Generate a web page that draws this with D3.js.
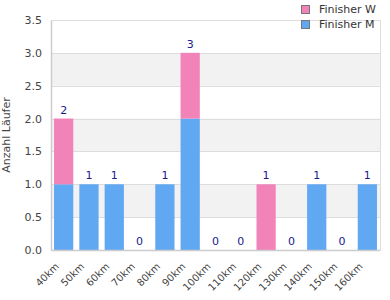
<!DOCTYPE html>
<html><head><meta charset="utf-8">
<script src="https://cdn.jsdelivr.net/npm/d3@7/dist/d3.min.js"></script>
<style>body{margin:0;background:#fff;}svg{display:block;font-family:"DejaVu Sans",sans-serif;}</style>
</head><body>
<script>
const categories = ["40km","50km","60km","70km","80km","90km","100km","110km","120km","130km","140km","150km","160km"];
const finisherM = [1,1,1,0,1,2,0,0,0,0,1,0,1];
const finisherW = [1,0,0,0,0,1,0,0,1,0,0,0,0];
const seriesNames = ["Finisher W","Finisher M"];
const colors = {"Finisher W":"#f283b8","Finisher M":"#60a8f2"};
const yTicks = [0,0.5,1,1.5,2,2.5,3,3.5];

const W=390,H=300, m={l:51,r:10,t:20,b:50};
const svg=d3.select("body").append("svg").attr("width",W).attr("height",H);
const x=d3.scaleBand().domain(categories).range([m.l,W-m.r]).paddingInner(0.24).paddingOuter(0.12);
const y=d3.scaleLinear().domain([0,3.5]).range([H-m.b,m.t]);

// alternating bands
for(let i=0;i<yTicks.length-1;i++){
  if(i%2===1) svg.append("rect").attr("x",m.l).attr("width",W-m.r-m.l)
    .attr("y",y(yTicks[i+1])).attr("height",y(yTicks[i])-y(yTicks[i+1])).attr("fill","#f2f2f2");
}
svg.append("g").selectAll("line").data(yTicks).join("line")
  .attr("x1",m.l).attr("x2",W-m.r).attr("y1",d=>Math.round(y(d))+0.5).attr("y2",d=>Math.round(y(d))+0.5)
  .attr("stroke","#dddddd");
// right border
svg.append("line").attr("x1",W-m.r+0.5).attr("x2",W-m.r+0.5).attr("y1",m.t).attr("y2",H-m.b).attr("stroke","#dddddd");

const data=categories.map((c,i)=>({c,M:finisherM[i],W:finisherW[i]}));
const g=svg.append("g");
data.forEach(d=>{
  if(d.M>0) g.append("rect").attr("x",x(d.c)).attr("width",x.bandwidth()).attr("y",y(d.M)).attr("height",y(0)-y(d.M)).attr("fill",colors["Finisher M"]);
  if(d.W>0) g.append("rect").attr("x",x(d.c)).attr("width",x.bandwidth()).attr("y",y(d.M+d.W)).attr("height",y(d.M)-y(d.M+d.W)).attr("fill",colors["Finisher W"]);
  g.append("text").attr("x",x(d.c)+x.bandwidth()/2).attr("y",y(d.M+d.W)-5)
    .attr("text-anchor","middle").attr("font-size",11).attr("fill","#1a1a8c").text(d.M+d.W);
});

// y axis
const ya=svg.append("g").attr("transform",`translate(${m.l},0)`)
  .call(d3.axisLeft(y).tickValues(yTicks).tickFormat(d3.format(".1f")).tickSize(0).tickPadding(9));
ya.select(".domain").attr("stroke","#cccccc").attr("stroke-width",1.5);
ya.selectAll("text").attr("font-size",11).attr("fill","#444").attr("font-family","DejaVu Sans");
// x axis
const xa=svg.append("g").attr("transform",`translate(0,${H-m.b})`)
  .call(d3.axisBottom(x).tickSize(0).tickPadding(0));
xa.select(".domain").attr("stroke","#cccccc").attr("stroke-width",1.5);
xa.selectAll("text").attr("font-size",10).attr("fill","#444").attr("font-family","DejaVu Sans")
  .attr("text-anchor","end").attr("dy",0)
  .attr("transform","translate(-4,17) rotate(-45)");

svg.append("text").attr("transform",`translate(10,${(m.t+H-m.b)/2}) rotate(-90)`)
  .attr("text-anchor","middle").attr("font-size",11).attr("fill","#444").text("Anzahl Läufer");

// legend
const lg=svg.append("g");
seriesNames.forEach((s,i)=>{
  lg.append("rect").attr("x",301.5).attr("y",5.5+i*15).attr("width",8).attr("height",8)
    .attr("fill",colors[s]).attr("stroke","#777");
  lg.append("text").attr("x",319).attr("y",13+i*15).attr("font-size",11).attr("fill","#333").text(s);
});
</script>
</body></html>
